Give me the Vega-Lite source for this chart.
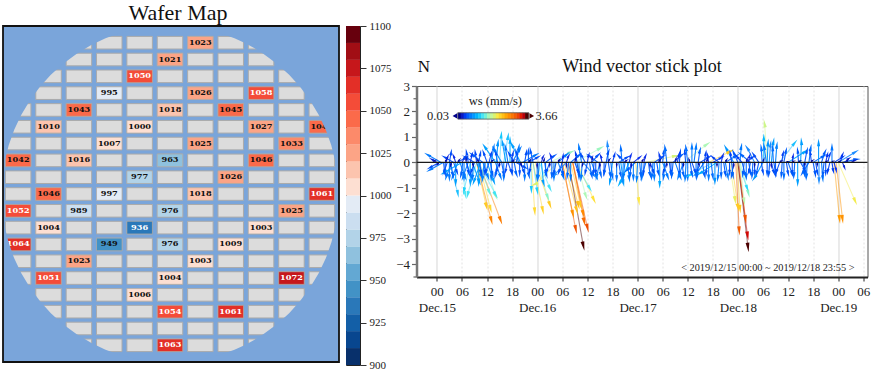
{
"$schema":"https://vega.github.io/schema/vega-lite/v6.json",
"background":"white","padding":{"left":2,"top":2,"right":0,"bottom":0},
"config":{"font":"Liberation Serif"},
"datasets":{
"cells":[
{"r":0,"c":2},{"r":0,"c":3},{"r":0,"c":4},{"r":0,"c":5},{"r":0,"c":6},{"r":0,"c":7},{"r":0,"c":8},
{"r":1,"c":2},{"r":1,"c":3},{"r":1,"c":4},{"r":1,"c":5},{"r":1,"c":6},{"r":1,"c":7},{"r":1,"c":8},
{"r":2,"c":1},{"r":2,"c":2},{"r":2,"c":3},{"r":2,"c":4},{"r":2,"c":5},{"r":2,"c":6},{"r":2,"c":7},{"r":2,"c":8},{"r":2,"c":9},
{"r":3,"c":1},{"r":3,"c":2},{"r":3,"c":3},{"r":3,"c":4},{"r":3,"c":5},{"r":3,"c":6},{"r":3,"c":7},{"r":3,"c":8},{"r":3,"c":9},
{"r":4,"c":0},{"r":4,"c":1},{"r":4,"c":2},{"r":4,"c":3},{"r":4,"c":4},{"r":4,"c":5},{"r":4,"c":6},{"r":4,"c":7},{"r":4,"c":8},{"r":4,"c":9},{"r":4,"c":10},
{"r":5,"c":0},{"r":5,"c":1},{"r":5,"c":2},{"r":5,"c":3},{"r":5,"c":4},{"r":5,"c":5},{"r":5,"c":6},{"r":5,"c":7},{"r":5,"c":8},{"r":5,"c":9},{"r":5,"c":10},
{"r":6,"c":0},{"r":6,"c":1},{"r":6,"c":2},{"r":6,"c":3},{"r":6,"c":4},{"r":6,"c":5},{"r":6,"c":6},{"r":6,"c":7},{"r":6,"c":8},{"r":6,"c":9},{"r":6,"c":10},
{"r":7,"c":0},{"r":7,"c":1},{"r":7,"c":2},{"r":7,"c":3},{"r":7,"c":4},{"r":7,"c":5},{"r":7,"c":6},{"r":7,"c":7},{"r":7,"c":8},{"r":7,"c":9},{"r":7,"c":10},
{"r":8,"c":0},{"r":8,"c":1},{"r":8,"c":2},{"r":8,"c":3},{"r":8,"c":4},{"r":8,"c":5},{"r":8,"c":6},{"r":8,"c":7},{"r":8,"c":8},{"r":8,"c":9},{"r":8,"c":10},
{"r":9,"c":0},{"r":9,"c":1},{"r":9,"c":2},{"r":9,"c":3},{"r":9,"c":4},{"r":9,"c":5},{"r":9,"c":6},{"r":9,"c":7},{"r":9,"c":8},{"r":9,"c":9},{"r":9,"c":10},
{"r":10,"c":0},{"r":10,"c":1},{"r":10,"c":2},{"r":10,"c":3},{"r":10,"c":4},{"r":10,"c":5},{"r":10,"c":6},{"r":10,"c":7},{"r":10,"c":8},{"r":10,"c":9},{"r":10,"c":10},
{"r":11,"c":0},{"r":11,"c":1},{"r":11,"c":2},{"r":11,"c":3},{"r":11,"c":4},{"r":11,"c":5},{"r":11,"c":6},{"r":11,"c":7},{"r":11,"c":8},{"r":11,"c":9},{"r":11,"c":10},
{"r":12,"c":0},{"r":12,"c":1},{"r":12,"c":2},{"r":12,"c":3},{"r":12,"c":4},{"r":12,"c":5},{"r":12,"c":6},{"r":12,"c":7},{"r":12,"c":8},{"r":12,"c":9},{"r":12,"c":10},
{"r":13,"c":0},{"r":13,"c":1},{"r":13,"c":2},{"r":13,"c":3},{"r":13,"c":4},{"r":13,"c":5},{"r":13,"c":6},{"r":13,"c":7},{"r":13,"c":8},{"r":13,"c":9},{"r":13,"c":10},
{"r":14,"c":0},{"r":14,"c":1},{"r":14,"c":2},{"r":14,"c":3},{"r":14,"c":4},{"r":14,"c":5},{"r":14,"c":6},{"r":14,"c":7},{"r":14,"c":8},{"r":14,"c":9},{"r":14,"c":10},
{"r":15,"c":1},{"r":15,"c":2},{"r":15,"c":3},{"r":15,"c":4},{"r":15,"c":5},{"r":15,"c":6},{"r":15,"c":7},{"r":15,"c":8},{"r":15,"c":9},
{"r":16,"c":1},{"r":16,"c":2},{"r":16,"c":3},{"r":16,"c":4},{"r":16,"c":5},{"r":16,"c":6},{"r":16,"c":7},{"r":16,"c":8},{"r":16,"c":9},
{"r":17,"c":2},{"r":17,"c":3},{"r":17,"c":4},{"r":17,"c":5},{"r":17,"c":6},{"r":17,"c":7},{"r":17,"c":8},
{"r":18,"c":2},{"r":18,"c":3},{"r":18,"c":4},{"r":18,"c":5},{"r":18,"c":6},{"r":18,"c":7},{"r":18,"c":8}],
"dies":[
{"r":0,"c":6,"v":1023},{"r":1,"c":5,"v":1021},{"r":2,"c":4,"v":1050},{"r":3,"c":3,"v":995},{"r":3,"c":6,"v":1026},{"r":3,"c":8,"v":1058},
{"r":4,"c":2,"v":1043},{"r":4,"c":5,"v":1018},{"r":4,"c":7,"v":1045},{"r":5,"c":1,"v":1010},{"r":5,"c":4,"v":1000},{"r":5,"c":8,"v":1027},{"r":5,"c":10,"v":1048},
{"r":6,"c":3,"v":1007},{"r":6,"c":6,"v":1025},{"r":6,"c":9,"v":1033},{"r":7,"c":0,"v":1042},{"r":7,"c":2,"v":1016},{"r":7,"c":5,"v":963},{"r":7,"c":8,"v":1046},
{"r":8,"c":4,"v":977},{"r":8,"c":7,"v":1026},{"r":9,"c":1,"v":1046},{"r":9,"c":3,"v":997},{"r":9,"c":6,"v":1018},{"r":9,"c":10,"v":1061},
{"r":10,"c":0,"v":1052},{"r":10,"c":2,"v":989},{"r":10,"c":5,"v":976},{"r":10,"c":9,"v":1025},{"r":11,"c":1,"v":1004},{"r":11,"c":4,"v":936},{"r":11,"c":8,"v":1003},
{"r":12,"c":0,"v":1064},{"r":12,"c":3,"v":949},{"r":12,"c":5,"v":976},{"r":12,"c":7,"v":1009},{"r":13,"c":2,"v":1023},{"r":13,"c":6,"v":1003},
{"r":14,"c":1,"v":1051},{"r":14,"c":5,"v":1004},{"r":14,"c":9,"v":1072},{"r":15,"c":4,"v":1006},{"r":16,"c":5,"v":1054},{"r":16,"c":7,"v":1061},{"r":18,"c":5,"v":1063}],
"bins":[{"lo":900,"hi":910,"m":905},{"lo":910,"hi":920,"m":915},{"lo":920,"hi":930,"m":925},{"lo":930,"hi":940,"m":935},{"lo":940,"hi":950,"m":945},{"lo":950,"hi":960,"m":955},{"lo":960,"hi":970,"m":965},{"lo":970,"hi":980,"m":975},{"lo":980,"hi":990,"m":985},{"lo":990,"hi":1000,"m":995},{"lo":1000,"hi":1010,"m":1005},{"lo":1010,"hi":1020,"m":1015},{"lo":1020,"hi":1030,"m":1025},{"lo":1030,"hi":1040,"m":1035},{"lo":1040,"hi":1050,"m":1045},{"lo":1050,"hi":1060,"m":1055},{"lo":1060,"hi":1070,"m":1065},{"lo":1070,"hi":1080,"m":1075},{"lo":1080,"hi":1090,"m":1085},{"lo":1090,"hi":1100,"m":1095}],
"ramp":[{"a":5,"b":5.8,"w":0.03},{"a":5.7,"b":6.5,"w":0.18},{"a":6.4,"b":7.2,"w":0.33},{"a":7.1,"b":7.9,"w":0.48},{"a":7.8,"b":8.6,"w":0.63},{"a":8.5,"b":9.3,"w":0.78},{"a":9.2,"b":10,"w":0.93},{"a":9.9,"b":10.7,"w":1.08},{"a":10.6,"b":11.4,"w":1.23},{"a":11.3,"b":12.1,"w":1.38},{"a":12,"b":12.8,"w":1.53},{"a":12.7,"b":13.5,"w":1.68},{"a":13.4,"b":14.2,"w":1.83},{"a":14.1,"b":14.9,"w":1.98},{"a":14.8,"b":15.6,"w":2.13},{"a":15.5,"b":16.3,"w":2.28},{"a":16.2,"b":17,"w":2.43},{"a":16.9,"b":17.7,"w":2.58},{"a":17.6,"b":18.4,"w":2.73},{"a":18.3,"b":19.1,"w":2.88},{"a":19,"b":19.8,"w":3.03},{"a":19.7,"b":20.5,"w":3.18},{"a":20.4,"b":21.2,"w":3.33},{"a":21.1,"b":22,"w":3.66}],
"minorTicks":[{"y":-4.5},{"y":-3.5},{"y":-2.5},{"y":-1.5},{"y":-0.5},{"y":0.5},{"y":1.5},{"y":2.5}],
"sticks":[
{"t":11.5,"e":14,"v":-1.3,"w":1.5,"d":155},{"t":33,"e":39,"v":0.55,"w":1.5,"d":60},
{"t":27,"e":32,"v":0.4,"w":1.5,"d":68},{"t":59,"e":64.5,"v":0.7,"w":1.55,"d":55},
{"t":65,"e":70,"v":0.42,"w":2.2,"d":65},{"t":50,"e":57,"v":0.25,"w":1.8,"d":78},
{"t":3,"e":5,"v":-1.2,"w":1,"d":170},{"t":10,"e":14,"v":-1.25,"w":1.2,"d":150},{"t":8,"e":6.5,"v":-1.1,"w":1.1,"d":-170},
{"t":6,"e":6.8,"v":-1.25,"w":1.25,"d":170},{"t":9.5,"e":7.4,"v":-1.25,"w":1.2,"d":-165},
{"t":10,"e":12.8,"v":-1.8,"w":2.1,"d":165},{"t":9.5,"e":11.8,"v":-1.7,"w":2.2,"d":165},
{"t":9.5,"e":13,"v":-2.25,"w":2.65,"d":166},{"t":10,"e":15.2,"v":-2.25,"w":2.7,"d":160},{"t":10,"e":12.5,"v":-1.15,"w":1.35,"d":160},
{"t":22.6,"e":23.4,"v":-1.9,"w":2.1,"d":175},{"t":23,"e":25.3,"v":-1.85,"w":2.15,"d":168},{"t":23.5,"e":27,"v":-1.65,"w":2.2,"d":160},
{"t":29,"e":23.5,"v":-0.85,"w":1.85,"d":-115},{"t":23,"e":24,"v":-1.1,"w":1.1,"d":170},{"t":24,"e":26.5,"v":-1.35,"w":1.45,"d":160},
{"t":24.5,"e":27,"v":-1,"w":1.2,"d":155},{"t":22.5,"e":22.6,"v":-1.05,"w":1.05,"d":179},
{"t":30,"e":33.2,"v":-2.6,"w":2.95,"d":168},{"t":30.5,"e":33.4,"v":-1.85,"w":2.25,"d":165},{"t":31,"e":33.8,"v":-1.65,"w":2.3,"d":165},
{"t":31.5,"e":35,"v":-3.25,"w":3.66,"d":168},{"t":32.5,"e":36,"v":-2.55,"w":3,"d":167},{"t":32.5,"e":35,"v":-2.0,"w":2.6,"d":165},
{"t":32,"e":34.3,"v":-1.65,"w":2.2,"d":165},{"t":33.5,"e":37.5,"v":-1.45,"w":2.05,"d":155},{"t":33.5,"e":35.6,"v":-1.3,"w":1.55,"d":160},
{"t":32.5,"e":35.2,"v":-2.3,"w":2.8,"d":167},{"t":30,"e":32.5,"v":-2.0,"w":2.55,"d":167},{"t":33,"e":36.5,"v":-1,"w":1.2,"d":150},
{"t":47.5,"e":48.3,"v":-1.5,"w":2,"d":172},
{"t":70.5,"e":72,"v":-1.75,"w":2.2,"d":168},{"t":71.5,"e":72.3,"v":-2.65,"w":2.9,"d":176},{"t":72,"e":74.3,"v":-2.85,"w":3.25,"d":172},{"t":72,"e":74.4,"v":-3.3,"w":3.66,"d":173},
{"t":72,"e":74.2,"v":-1,"w":1.15,"d":160},{"t":70,"e":71.3,"v":-1.45,"w":1.9,"d":170},{"t":72.5,"e":74.5,"v":-1.2,"w":1.45,"d":165},{"t":71.8,"e":72.5,"v":-1.8,"w":2.2,"d":175},
{"t":72.2,"e":73.8,"v":-2.2,"w":2.95,"d":173},{"t":72.5,"e":73.5,"v":-1.5,"w":1.6,"d":172},
{"t":95,"e":96.3,"v":-2.2,"w":2.5,"d":174},{"t":95.5,"e":97,"v":-2.2,"w":2.55,"d":173},{"t":96,"e":100,"v":-1.5,"w":1.95,"d":157},{"t":79,"e":78.4,"v":1.5,"w":1.75,"d":-10},
{"t":1,"e":-2.1,"v":0.29,"w":0.6,"d":-60},{"t":1.5,"e":-1.6,"v":-0.29,"w":0.6,"d":-120},{"t":0,"e":-1.2,"v":0.12,"w":0.24,"d":-60},{"t":0.5,"e":-1.6,"v":-0.2,"w":0.4,"d":-120},
{"t":2,"e":2,"v":-0.39,"w":0.4,"d":180},{"t":2.5,"e":1.7,"v":-0.37,"w":0.4,"d":-160},{"t":3,"e":3,"v":-0.59,"w":0.6,"d":180},{"t":3.5,"e":2.3,"v":-0.55,"w":0.6,"d":-160},
{"t":4,"e":4.8,"v":-0.37,"w":0.4,"d":160},{"t":4.5,"e":4.5,"v":-0.78,"w":0.8,"d":180},{"t":5,"e":3.8,"v":-0.55,"w":0.6,"d":-160},{"t":5.5,"e":6.7,"v":-0.55,"w":0.6,"d":160},
{"t":6,"e":1.8,"v":-0.39,"w":0.8,"d":-120},{"t":6.5,"e":6.5,"v":-0.59,"w":0.6,"d":180},{"t":7,"e":8.2,"v":-0.55,"w":0.6,"d":160},{"t":7.5,"e":6.3,"v":-0.55,"w":0.6,"d":-160},
{"t":8,"e":8,"v":-0.78,"w":0.8,"d":180},{"t":8.5,"e":10.1,"v":-0.73,"w":0.8,"d":160},{"t":9,"e":8.2,"v":-0.37,"w":0.4,"d":-160},{"t":9.5,"e":10.7,"v":-0.55,"w":0.6,"d":160},
{"t":10,"e":10,"v":-0.78,"w":0.8,"d":180},{"t":10.5,"e":8.9,"v":-0.73,"w":0.8,"d":-160},{"t":11,"e":12.2,"v":-0.55,"w":0.6,"d":160},{"t":11.5,"e":11.5,"v":-0.39,"w":0.4,"d":180},
{"t":12,"e":13.6,"v":-0.73,"w":0.8,"d":160},{"t":12.5,"e":11.7,"v":-0.37,"w":0.4,"d":-160},{"t":13,"e":13,"v":-0.59,"w":0.6,"d":180},{"t":14,"e":15.2,"v":-0.55,"w":0.6,"d":160},
{"t":15,"e":14.2,"v":-0.37,"w":0.4,"d":-160},{"t":16,"e":16,"v":-0.59,"w":0.6,"d":180},{"t":17,"e":17.8,"v":-0.37,"w":0.4,"d":160},{"t":18,"e":18,"v":-0.39,"w":0.4,"d":180},
{"t":19,"e":21.1,"v":-0.2,"w":0.4,"d":120},{"t":20,"e":20.8,"v":-0.37,"w":0.4,"d":160},{"t":21,"e":21,"v":-0.59,"w":0.6,"d":180},
{"t":3,"e":3.4,"v":0.38,"w":0.4,"d":10},{"t":4,"e":1.9,"v":0.2,"w":0.4,"d":-60},{"t":6,"e":6.7,"v":0.2,"w":0.24,"d":30},{"t":7.5,"e":7.1,"v":0.38,"w":0.4,"d":-10},
{"t":9,"e":6.9,"v":0.2,"w":0.4,"d":-60},{"t":10,"e":10.4,"v":0.34,"w":0.4,"d":10},{"t":11,"e":8.5,"v":0.3,"w":0.5,"d":-55},{"t":5,"e":7,"v":0.2,"w":0.4,"d":60},
{"t":13,"e":13.6,"v":0.58,"w":0.6,"d":10},{"t":14,"e":11.5,"v":0.6,"w":0.8,"d":-35},{"t":14.5,"e":14.1,"v":0.38,"w":0.4,"d":-10},{"t":15.5,"e":13.7,"v":0.51,"w":0.6,"d":-30},
{"t":16,"e":17,"v":1.0,"w":1,"d":10},{"t":16.5,"e":15.7,"v":0.77,"w":0.8,"d":-10},{"t":17,"e":16.4,"v":0.58,"w":0.6,"d":-10},{"t":17.5,"e":17.5,"v":0.85,"w":0.9,"d":0},
{"t":18,"e":19.8,"v":0.51,"w":0.6,"d":30},{"t":18.5,"e":17.3,"v":0.34,"w":0.4,"d":-30},{"t":19,"e":19.6,"v":0.58,"w":0.6,"d":10},{"t":20,"e":18,"v":0.68,"w":0.8,"d":-30},
{"t":20.5,"e":23.6,"v":0.29,"w":0.6,"d":60},{"t":21,"e":21.4,"v":0.38,"w":0.4,"d":10},{"t":22,"e":24.1,"v":0.2,"w":0.4,"d":60},{"t":15,"e":15.4,"v":1.05,"w":1.05,"d":5},
{"t":12,"e":11.2,"v":0.37,"w":0.4,"d":-20},{"t":21.9,"e":21.9,"v":0.42,"w":0.45,"d":0},
{"t":24,"e":24,"v":-0.59,"w":0.6,"d":180},{"t":25,"e":25.5,"v":-0.8,"w":0.8,"d":165},{"t":26,"e":26,"v":-0.39,"w":0.4,"d":180},{"t":27,"e":26.2,"v":-0.37,"w":0.4,"d":-160},
{"t":28,"e":28,"v":-0.59,"w":0.6,"d":180},{"t":29,"e":30.2,"v":-0.55,"w":0.6,"d":160},{"t":30,"e":29.2,"v":-0.37,"w":0.4,"d":-160},{"t":31,"e":28,"v":-0.5,"w":0.7,"d":-130},
{"t":32,"e":32,"v":-0.59,"w":0.6,"d":180},{"t":33,"e":33.8,"v":-0.37,"w":0.4,"d":160},{"t":34,"e":34,"v":-0.55,"w":0.6,"d":180},{"t":35,"e":37.5,"v":-0.5,"w":0.7,"d":135},
{"t":36,"e":35.5,"v":-0.39,"w":0.4,"d":-170},{"t":37,"e":38.2,"v":-0.55,"w":0.6,"d":160},{"t":38,"e":38,"v":-0.39,"w":0.4,"d":180},{"t":39,"e":38.2,"v":-0.55,"w":0.6,"d":-170},
{"t":40,"e":40,"v":-0.39,"w":0.4,"d":180},{"t":41,"e":41.5,"v":-0.5,"w":0.5,"d":170},{"t":42,"e":41.4,"v":-0.75,"w":0.8,"d":-170},{"t":43,"e":43,"v":-0.62,"w":0.6,"d":180},
{"t":44,"e":44.6,"v":-0.78,"w":0.8,"d":170},{"t":45,"e":44.6,"v":-0.55,"w":0.6,"d":-170},{"t":46,"e":43.8,"v":-0.8,"w":0.9,"d":-150},{"t":47,"e":47,"v":-0.59,"w":0.6,"d":180},
{"t":47.5,"e":45.5,"v":-0.3,"w":0.5,"d":-130},{"t":48,"e":47.8,"v":-0.65,"w":0.65,"d":-175},
{"t":23,"e":22.4,"v":0.45,"w":0.45,"d":-10},{"t":26,"e":28,"v":0.25,"w":0.45,"d":55},{"t":29,"e":31,"v":0.3,"w":0.6,"d":50},{"t":30,"e":30.2,"v":0.25,"w":0.3,"d":5},
{"t":32,"e":34,"v":0.28,"w":0.5,"d":50},{"t":34.6,"e":34,"v":0.6,"w":0.6,"d":-10},{"t":35.5,"e":34.5,"v":0.3,"w":0.4,"d":-30},{"t":37,"e":38.5,"v":0.28,"w":0.45,"d":45},
{"t":38.5,"e":36.5,"v":0.25,"w":0.45,"d":-55},{"t":41,"e":40.8,"v":0.72,"w":0.7,"d":-5},{"t":42,"e":42.5,"v":0.3,"w":0.35,"d":15},{"t":43.5,"e":45.5,"v":0.2,"w":0.4,"d":60},
{"t":44.3,"e":44,"v":0.55,"w":0.55,"d":-5},{"t":45,"e":43.5,"v":0.25,"w":0.4,"d":-45},{"t":47,"e":48.5,"v":0.2,"w":0.3,"d":50},
{"t":49,"e":49,"v":-0.59,"w":0.6,"d":180},{"t":50,"e":49,"v":-0.55,"w":0.6,"d":-165},{"t":51,"e":51.8,"v":-0.37,"w":0.4,"d":160},{"t":52,"e":52,"v":-0.59,"w":0.6,"d":180},
{"t":53.3,"e":53.3,"v":-0.85,"w":0.85,"d":180},{"t":54,"e":55.2,"v":-0.55,"w":0.6,"d":160},{"t":55,"e":54.2,"v":-0.37,"w":0.4,"d":-160},{"t":56,"e":56,"v":-0.39,"w":0.4,"d":180},
{"t":57,"e":58.2,"v":-0.55,"w":0.6,"d":160},{"t":58,"e":58,"v":-0.45,"w":0.45,"d":180},{"t":59,"e":57.8,"v":-0.55,"w":0.6,"d":-160},{"t":60,"e":60,"v":-0.59,"w":0.6,"d":180},
{"t":61,"e":61.8,"v":-0.37,"w":0.4,"d":160},{"t":62,"e":62,"v":-0.5,"w":0.5,"d":180},{"t":63,"e":62.2,"v":-0.37,"w":0.4,"d":-160},{"t":64,"e":62,"v":-0.45,"w":0.6,"d":-130},
{"t":65,"e":65,"v":-0.59,"w":0.6,"d":180},{"t":66,"e":60.5,"v":-0.5,"w":1.1,"d":-120},{"t":66.5,"e":66.5,"v":-0.72,"w":0.75,"d":180},{"t":67,"e":63,"v":-0.42,"w":0.85,"d":-120},
{"t":68,"e":68,"v":-0.5,"w":0.5,"d":180},{"t":69,"e":69.6,"v":-0.55,"w":0.6,"d":170},{"t":70,"e":70,"v":-0.39,"w":0.4,"d":180},{"t":71,"e":70.5,"v":-0.5,"w":0.5,"d":-170},
{"t":52,"e":54,"v":0.22,"w":0.4,"d":60},{"t":54,"e":54.3,"v":0.42,"w":0.45,"d":10},{"t":55,"e":54.6,"v":0.55,"w":0.55,"d":-10},{"t":56.5,"e":58.5,"v":0.28,"w":0.45,"d":55},
{"t":58,"e":58.2,"v":0.4,"w":0.4,"d":10},{"t":60,"e":59.6,"v":0.55,"w":0.55,"d":-10},{"t":61,"e":61,"v":0.62,"w":0.6,"d":0},{"t":61.5,"e":62,"v":0.62,"w":0.6,"d":5},
{"t":63,"e":65,"v":0.2,"w":0.4,"d":60},{"t":64,"e":64.3,"v":0.35,"w":0.35,"d":10},{"t":66,"e":68,"v":0.18,"w":0.35,"d":65},{"t":67.5,"e":66,"v":0.2,"w":0.35,"d":-50},
{"t":69,"e":71.5,"v":0.25,"w":0.5,"d":60},{"t":71,"e":69.2,"v":0.55,"w":0.75,"d":-30},{"t":72,"e":71,"v":0.38,"w":0.45,"d":-25},{"t":72.5,"e":72.8,"v":0.6,"w":0.6,"d":10},
{"t":73,"e":71.8,"v":0.22,"w":0.35,"d":-45},{"t":74,"e":75.5,"v":0.2,"w":0.35,"d":60},
{"t":73,"e":73.8,"v":-0.5,"w":0.5,"d":160},{"t":74,"e":74,"v":-0.55,"w":0.55,"d":180},{"t":75,"e":74.6,"v":-0.35,"w":0.4,"d":-165},{"t":76,"e":76,"v":-0.39,"w":0.4,"d":180},
{"t":77,"e":76.4,"v":-0.45,"w":0.45,"d":-170},{"t":78,"e":76,"v":-0.6,"w":0.75,"d":-145},{"t":79,"e":79,"v":-0.42,"w":0.45,"d":180},{"t":80,"e":80.6,"v":-0.39,"w":0.4,"d":160},
{"t":81,"e":81,"v":-0.45,"w":0.45,"d":180},{"t":82,"e":81.2,"v":-0.37,"w":0.4,"d":-160},{"t":83,"e":83,"v":-0.55,"w":0.55,"d":180},{"t":84,"e":85,"v":-0.45,"w":0.5,"d":160},
{"t":85,"e":85,"v":-0.4,"w":0.4,"d":180},{"t":86.3,"e":86.3,"v":-0.78,"w":0.8,"d":180},{"t":87,"e":88,"v":-0.3,"w":0.4,"d":150},{"t":88,"e":88,"v":-0.42,"w":0.45,"d":180},
{"t":89,"e":87.5,"v":-0.4,"w":0.5,"d":-150},{"t":90,"e":90.5,"v":-0.45,"w":0.45,"d":170},{"t":91.4,"e":91.4,"v":-0.7,"w":0.7,"d":180},{"t":92,"e":92.3,"v":-0.62,"w":0.6,"d":175},
{"t":93,"e":93,"v":-0.4,"w":0.4,"d":180},{"t":94,"e":93.5,"v":-0.35,"w":0.35,"d":-170},{"t":95,"e":95.5,"v":-0.3,"w":0.3,"d":170},{"t":97,"e":97.5,"v":-0.2,"w":0.25,"d":160},
{"t":75,"e":72.8,"v":0.3,"w":0.5,"d":-50},{"t":76,"e":74.3,"v":0.55,"w":0.7,"d":-35},{"t":77,"e":75.8,"v":0.3,"w":0.4,"d":-35},{"t":78.2,"e":78.2,"v":0.95,"w":0.95,"d":0},
{"t":78.8,"e":78.3,"v":0.6,"w":0.6,"d":-10},{"t":79.5,"e":79.8,"v":0.7,"w":0.7,"d":8},{"t":80,"e":80.5,"v":0.8,"w":0.8,"d":10},{"t":80.5,"e":80.3,"v":0.55,"w":0.55,"d":-5},
{"t":81,"e":81.3,"v":0.65,"w":0.65,"d":8},{"t":82,"e":85.5,"v":0.75,"w":1,"d":40},{"t":83,"e":83.5,"v":0.45,"w":0.45,"d":15},{"t":84,"e":88,"v":0.42,"w":0.85,"d":55},
{"t":87,"e":87.2,"v":0.8,"w":0.8,"d":-5},{"t":88,"e":88.5,"v":0.45,"w":0.45,"d":15},{"t":89,"e":89.4,"v":0.55,"w":0.55,"d":10},{"t":90,"e":92.5,"v":0.25,"w":0.5,"d":60},
{"t":91.3,"e":91.3,"v":0.75,"w":0.75,"d":0},{"t":92,"e":92.8,"v":0.4,"w":0.45,"d":25},{"t":94.5,"e":94.5,"v":0.58,"w":0.58,"d":0},{"t":95,"e":97,"v":0.2,"w":0.35,"d":55},
{"t":96,"e":100,"v":0.4,"w":0.7,"d":60},{"t":97,"e":100.3,"v":0.12,"w":0.5,"d":85},{"t":97.5,"e":98.5,"v":0.15,"w":0.25,"d":60},{"t":93,"e":93.4,"v":0.3,"w":0.3,"d":15},
{"t":1.6,"e":1.9,"v":-0.42,"w":0.45,"d":165},{"t":3.3,"e":3.8,"v":-0.48,"w":0.5,"d":165},{"t":6.2,"e":5.8,"v":-0.48,"w":0.5,"d":-165},{"t":7.2,"e":7.6,"v":-0.4,"w":0.42,"d":165},{"t":8.8,"e":8.5,"v":-0.6,"w":0.6,"d":-170},{"t":10.2,"e":10.6,"v":-0.4,"w":0.42,"d":165},{"t":11.3,"e":10.9,"v":-0.65,"w":0.65,"d":-172},{"t":12.8,"e":13.3,"v":-0.45,"w":0.48,"d":165},{"t":14.5,"e":14,"v":-0.5,"w":0.5,"d":-165},{"t":15.5,"e":16,"v":-0.45,"w":0.48,"d":165},{"t":16.8,"e":16.4,"v":-0.35,"w":0.38,"d":-165},{"t":18.5,"e":19,"v":-0.45,"w":0.5,"d":160},{"t":19.8,"e":19.8,"v":-0.42,"w":0.42,"d":180},{"t":21.5,"e":22,"v":-0.5,"w":0.5,"d":165},{"t":22.5,"e":22.2,"v":-0.35,"w":0.38,"d":-170},
{"t":24.5,"e":24.2,"v":-0.6,"w":0.6,"d":-172},{"t":25.8,"e":26.2,"v":-0.48,"w":0.5,"d":165},{"t":27.5,"e":27.5,"v":-0.5,"w":0.5,"d":180},{"t":28.5,"e":28,"v":-0.42,"w":0.45,"d":-165},{"t":29.8,"e":30.2,"v":-0.45,"w":0.45,"d":168},{"t":31.5,"e":31.2,"v":-0.52,"w":0.52,"d":-172},{"t":33.5,"e":34,"v":-0.45,"w":0.45,"d":165},{"t":34.8,"e":34.5,"v":-0.6,"w":0.6,"d":-172},{"t":36.5,"e":37,"v":-0.5,"w":0.5,"d":165},{"t":37.6,"e":37.4,"v":-0.42,"w":0.42,"d":-175},{"t":38.8,"e":39.2,"v":-0.48,"w":0.5,"d":165},{"t":40.5,"e":40,"v":-0.42,"w":0.45,"d":-165},{"t":41.6,"e":42,"v":-0.55,"w":0.55,"d":170},{"t":43.5,"e":44,"v":-0.5,"w":0.5,"d":165},{"t":44.6,"e":44.4,"v":-0.68,"w":0.68,"d":-175},{"t":45.6,"e":46,"v":-0.62,"w":0.62,"d":170},{"t":46.5,"e":46.2,"v":-0.5,"w":0.5,"d":-172},
{"t":48.5,"e":48.8,"v":-0.5,"w":0.5,"d":170},{"t":49.6,"e":49.4,"v":-0.42,"w":0.42,"d":-175},{"t":50.6,"e":51,"v":-0.48,"w":0.5,"d":165},{"t":51.7,"e":51.4,"v":-0.55,"w":0.55,"d":-172},{"t":52.6,"e":53,"v":-0.42,"w":0.45,"d":165},{"t":54.5,"e":54.2,"v":-0.58,"w":0.58,"d":-172},{"t":55.6,"e":56,"v":-0.45,"w":0.45,"d":168},{"t":56.5,"e":56.2,"v":-0.5,"w":0.5,"d":-172},{"t":58.6,"e":59,"v":-0.48,"w":0.5,"d":165},{"t":59.6,"e":59.4,"v":-0.62,"w":0.62,"d":-175},{"t":60.6,"e":61,"v":-0.45,"w":0.48,"d":165},{"t":62.5,"e":62.2,"v":-0.55,"w":0.55,"d":-172},{"t":63.5,"e":64,"v":-0.5,"w":0.5,"d":165},{"t":64.6,"e":64.4,"v":-0.42,"w":0.42,"d":-175},{"t":65.6,"e":66,"v":-0.55,"w":0.55,"d":170},{"t":67.5,"e":67.2,"v":-0.6,"w":0.6,"d":-172},{"t":68.6,"e":69,"v":-0.45,"w":0.45,"d":168},{"t":70.5,"e":70.8,"v":-0.5,"w":0.5,"d":170},
{"t":73.5,"e":73.2,"v":-0.45,"w":0.45,"d":-172},{"t":74.6,"e":75,"v":-0.42,"w":0.45,"d":165},{"t":75.6,"e":75.4,"v":-0.5,"w":0.5,"d":-175},{"t":77.6,"e":78,"v":-0.38,"w":0.4,"d":165},{"t":79.6,"e":79.4,"v":-0.45,"w":0.45,"d":-175},{"t":80.6,"e":81,"v":-0.42,"w":0.42,"d":165},{"t":82.6,"e":82.4,"v":-0.48,"w":0.48,"d":-175},{"t":83.6,"e":84,"v":-0.42,"w":0.42,"d":165},{"t":85.6,"e":85.4,"v":-0.5,"w":0.5,"d":-175},{"t":87.6,"e":88,"v":-0.48,"w":0.5,"d":165},{"t":88.6,"e":88.4,"v":-0.55,"w":0.55,"d":-175},{"t":90.6,"e":91,"v":-0.4,"w":0.42,"d":165},{"t":92.6,"e":92.3,"v":-0.48,"w":0.48,"d":-172},{"t":94.5,"e":94.8,"v":-0.32,"w":0.35,"d":165},
{"t":2.2,"e":2.6,"v":0.22,"w":0.25,"d":25},{"t":4.5,"e":4,"v":0.25,"w":0.28,"d":-25},{"t":8,"e":8.4,"v":0.3,"w":0.32,"d":20},{"t":9.5,"e":9.2,"v":0.38,"w":0.38,"d":-10},{"t":12.5,"e":13,"v":0.35,"w":0.38,"d":20},{"t":14.2,"e":14.6,"v":0.75,"w":0.75,"d":8},{"t":17.8,"e":18.2,"v":0.35,"w":0.38,"d":15},{"t":19.5,"e":19,"v":0.4,"w":0.42,"d":-15},{"t":25,"e":25.4,"v":0.22,"w":0.25,"d":30},{"t":27.5,"e":27.2,"v":0.28,"w":0.3,"d":-25},{"t":31,"e":31.5,"v":0.25,"w":0.28,"d":30},{"t":33.5,"e":33.2,"v":0.35,"w":0.35,"d":-15},{"t":36,"e":36.3,"v":0.28,"w":0.3,"d":20},{"t":39.5,"e":39.2,"v":0.25,"w":0.28,"d":-25},{"t":40.5,"e":41,"v":0.4,"w":0.42,"d":20},{"t":46,"e":46.4,"v":0.28,"w":0.3,"d":25},
{"t":49.5,"e":49.9,"v":0.25,"w":0.28,"d":25},{"t":53.5,"e":53.2,"v":0.3,"w":0.32,"d":-15},{"t":57.5,"e":57.9,"v":0.3,"w":0.32,"d":20},{"t":59.5,"e":59.3,"v":0.4,"w":0.4,"d":-10},{"t":62.5,"e":62.9,"v":0.45,"w":0.48,"d":15},{"t":65,"e":64.7,"v":0.3,"w":0.32,"d":-15},{"t":68,"e":68.4,"v":0.28,"w":0.3,"d":25},{"t":70.5,"e":70.2,"v":0.35,"w":0.35,"d":-15},{"t":74.5,"e":74.8,"v":0.25,"w":0.28,"d":20},{"t":77.8,"e":77.6,"v":0.55,"w":0.55,"d":-8},{"t":79,"e":79.2,"v":0.75,"w":0.75,"d":5},{"t":82.5,"e":82.8,"v":0.35,"w":0.35,"d":15},{"t":85,"e":85.2,"v":0.25,"w":0.28,"d":12},{"t":86.5,"e":86.3,"v":0.45,"w":0.45,"d":-8},{"t":89.6,"e":89.3,"v":0.38,"w":0.38,"d":-12},{"t":93.5,"e":94,"v":0.32,"w":0.35,"d":25},{"t":96.5,"e":97,"v":0.3,"w":0.32,"d":25},{"t":99,"e":100,"v":0.08,"w":0.2,"d":70},
{"t":-1,"e":-0.4,"v":0.08,"w":0.1,"d":70},{"t":0.5,"e":0.1,"v":-0.08,"w":0.1,"d":-120},{"t":2,"e":2.3,"v":0.1,"w":0.12,"d":40},{"t":3.5,"e":3.3,"v":-0.12,"w":0.12,"d":-170},
{"t":5,"e":5.4,"v":0.1,"w":0.12,"d":40},{"t":7,"e":7,"v":0.15,"w":0.15,"d":0},{"t":8.5,"e":8.7,"v":-0.12,"w":0.12,"d":160},{"t":10,"e":9.7,"v":0.1,"w":0.12,"d":-40},
{"t":13,"e":13.4,"v":0.08,"w":0.12,"d":60},{"t":15,"e":15,"v":-0.12,"w":0.12,"d":180},{"t":18,"e":18.4,"v":0.08,"w":0.12,"d":60},{"t":20,"e":20.2,"v":-0.1,"w":0.1,"d":160},
{"t":22,"e":22.4,"v":0.1,"w":0.12,"d":50},{"t":24,"e":24,"v":-0.15,"w":0.15,"d":180},{"t":25.5,"e":25.7,"v":0.12,"w":0.12,"d":20},{"t":27,"e":27,"v":-0.12,"w":0.12,"d":180},
{"t":29,"e":29.3,"v":0.1,"w":0.12,"d":40},{"t":31,"e":31,"v":-0.15,"w":0.15,"d":180},{"t":33,"e":33.2,"v":0.15,"w":0.15,"d":15},{"t":35,"e":34.8,"v":-0.12,"w":0.12,"d":-165},
{"t":37,"e":37.2,"v":0.18,"w":0.18,"d":15},{"t":39,"e":39,"v":-0.15,"w":0.15,"d":180},{"t":41,"e":41.3,"v":0.12,"w":0.12,"d":45},{"t":43,"e":43,"v":-0.12,"w":0.12,"d":180},
{"t":45,"e":45.4,"v":0.08,"w":0.1,"d":60},{"t":46.5,"e":46.5,"v":-0.15,"w":0.15,"d":180},{"t":49,"e":49.3,"v":0.1,"w":0.1,"d":40},{"t":51,"e":51,"v":-0.15,"w":0.15,"d":180},
{"t":53,"e":53.4,"v":0.1,"w":0.12,"d":50},{"t":55,"e":55,"v":-0.12,"w":0.12,"d":180},{"t":57,"e":57.2,"v":0.15,"w":0.15,"d":15},{"t":59,"e":59,"v":-0.12,"w":0.12,"d":180},
{"t":60.5,"e":60.3,"v":0.12,"w":0.12,"d":-20},{"t":62.5,"e":62.7,"v":-0.1,"w":0.1,"d":160},{"t":64.5,"e":64.7,"v":0.12,"w":0.12,"d":20},{"t":67,"e":67,"v":-0.12,"w":0.12,"d":180},
{"t":69,"e":69.3,"v":0.1,"w":0.1,"d":40},{"t":71,"e":71,"v":-0.15,"w":0.15,"d":180},{"t":74,"e":74.2,"v":0.12,"w":0.12,"d":20},{"t":76,"e":76,"v":-0.12,"w":0.12,"d":180},
{"t":78,"e":78.2,"v":0.12,"w":0.12,"d":20},{"t":80,"e":80,"v":-0.15,"w":0.15,"d":180},{"t":82,"e":82.4,"v":0.06,"w":0.08,"d":70},{"t":83.5,"e":84,"v":0.04,"w":0.06,"d":80},
{"t":85,"e":85.4,"v":0.05,"w":0.06,"d":75},{"t":86.5,"e":86.9,"v":0.06,"w":0.08,"d":70},{"t":88,"e":88,"v":-0.1,"w":0.1,"d":180},{"t":89.5,"e":89.9,"v":0.08,"w":0.1,"d":60},
{"t":91,"e":91,"v":-0.1,"w":0.1,"d":180},{"t":93,"e":93.3,"v":0.05,"w":0.06,"d":70},{"t":94.5,"e":94.8,"v":0.05,"w":0.06,"d":70},{"t":96,"e":96.4,"v":0.05,"w":0.06,"d":70},{"t":98,"e":98.3,"v":0.1,"w":0.12,"d":40}
]},
"hconcat":[
{"hconcat":[
{"width":336,"height":336,
 "view":{"fill":"#7aa5da","stroke":null},
 "title":{"text":"Wafer Map","fontSize":22,"font":"Liberation Serif","fontWeight":"normal","color":"#111","dx":7,"offset":0},
 "encoding":{
  "x":{"field":"c","type":"ordinal","axis":null,"scale":{"type":"band","domain":[0,1,2,3,4,5,6,7,8,9,10],"range":[0,334],"paddingInner":0.16,"paddingOuter":0.08}},
  "y":{"field":"r","type":"ordinal","axis":null,"scale":{"type":"band","domain":[0,1,2,3,4,5,6,7,8,9,10,11,12,13,14,15,16,17,18],"range":[8.3,327.7],"paddingInner":0.25,"paddingOuter":0.125}}},
 "layer":[
  {"data":{"name":"cells"},"mark":{"type":"rect","fill":"#dcdcdc","stroke":"#ababab","strokeWidth":1}},
  {"data":{"name":"dies"},"mark":{"type":"rect","stroke":"#aaaaaa","strokeOpacity":0.7,"strokeWidth":1},
   "encoding":{"color":{"field":"v","type":"quantitative","legend":null,"scale":{"type":"quantize","domain":[900,1100],"range":["#08306b","#08468f","#135fa7","#2a78b9","#4292c6","#63a8d3","#8fc1de","#b2d3e8","#cbdef0","#e3ebf5","#fddfd2","#fcc4ae","#fca486","#fc8a6a","#fb6a4a","#f44c38","#e32f27","#c6171b","#a10e15","#67000d"]}}}},
  {"data":{"name":"dies"},"mark":{"type":"text","font":"DejaVu Serif","fontWeight":"bold","fontSize":8.2},
   "encoding":{"text":{"field":"v","type":"quantitative"},
    "color":{"condition":{"test":"datum.v>=1050||datum.v<940","value":"#ffffff"},"value":"#111111"}}},
  {"data":{"values":[{"r":9,"c":5}]},"mark":{"type":"arc","fill":"#7aa5da","radius":168.5,"radius2":420,"theta":0,"theta2":6.2832,"clip":true}},
  {"data":{"values":[{"x0":0,"x1":1,"y0":0,"y1":1}]},"mark":{"type":"rect","fill":null,"stroke":"#111","strokeWidth":1.8},
   "encoding":{"x":{"field":"x0","type":"quantitative","axis":null,"scale":{"domain":[0,1],"nice":false}},"x2":{"field":"x1"},"y":{"field":"y0","type":"quantitative","axis":null,"scale":{"domain":[0,1],"nice":false}},"y2":{"field":"y1"}}}
 ],
 "resolve":{"scale":{"x":"independent","y":"independent"}}},
{"width":14,"height":339,
 "data":{"name":"bins"},
 "view":{"stroke":"#222","strokeWidth":1},
 "mark":{"type":"rect"},
 "encoding":{
  "y":{"field":"lo","type":"quantitative","scale":{"domain":[900,1100]},"axis":{"orient":"right","title":null,"format":"d","values":[900,925,950,975,1000,1025,1050,1075,1100],"tickCount":20,"grid":false,"domain":false,"tickColor":"#333","tickSize":6,"labelFont":"Liberation Serif","labelFontSize":11,"labelColor":"#222","labelPadding":3}},
  "y2":{"field":"hi"},
  "color":{"field":"m","type":"quantitative","legend":null,"scale":{"type":"quantize","domain":[900,1100],"range":["#08306b","#08468f","#135fa7","#2a78b9","#4292c6","#63a8d3","#8fc1de","#b2d3e8","#cbdef0","#e3ebf5","#fddfd2","#fcc4ae","#fca486","#fc8a6a","#fb6a4a","#f44c38","#e32f27","#c6171b","#a10e15","#67000d"]}}}}
],"spacing":5,"resolve":{"scale":{"color":"independent"}}},
{"vconcat":[
 {"width":451,"height":30,"view":{"stroke":null},"data":{"values":[{"a":1}]},"mark":{"type":"point","opacity":0},"encoding":{}},
 {"width":451,"height":191,
  "view":{"stroke":"#555","strokeWidth":1},
  "title":{"text":"Wind vector stick plot","fontSize":18,"font":"Liberation Serif","fontWeight":"normal","color":"#111","offset":0,"dy":19},
  "encoding":{
   "x":{"type":"quantitative","scale":{"domain":[-4.87,103],"nice":false,"zero":false}},
   "y":{"type":"quantitative","scale":{"domain":[-4.5,3],"nice":false,"zero":false}}},
  "layer":[
   {"data":{"name":"sticks"},"mark":{"type":"rule","strokeWidth":1.1,"clip":true},
    "encoding":{
     "opacity":{"condition":{"test":"datum.w<1","value":0.95},"value":0.5},
     "x":{"field":"e","type":"quantitative","axis":{"title":null,"values":[0,6,12,18,24,30,36,42,48,54,60,66,72,78,84,90,96,102],"tickCount":40,"grid":true,
       "gridColor":{"condition":{"test":"datum.value%24==0","value":"#dddddd"},"value":"#e2e2e2"},
       "gridDash":{"condition":{"test":"datum.value%24==0","value":[]},"value":[2,2]},
       "gridWidth":{"condition":{"test":"datum.value%24==0","value":1.2},"value":1},
       "labelExpr":"datum.value%24==0?[(datum.value%24<10?'0':'')+(datum.value%24),'Dec.'+(15+datum.value/24)]:[(datum.value%24<10?'0':'')+(datum.value%24)]",
       "labelFont":"Liberation Serif","labelFontSize":13,"labelColor":"#222","labelLineHeight":16,"labelBaseline":"top","labelPadding":4,
       "tickColor":"#222","tickSize":4,"domainColor":"#222","domainWidth":2,"labelOverlap":false}},
     "x2":{"field":"t"},
     "y":{"field":"v","type":"quantitative","axis":{"title":"N","titleAngle":0,"titleFont":"Liberation Serif","titleFontSize":17,"titleFontWeight":"normal","titleColor":"#111","titleX":7,"titleY":-11,"titleAlign":"center",
       "values":[-4,-3,-2,-1,0,1,2,3],"tickCount":20,"grid":false,"format":"d",
       "labelFont":"Liberation Serif","labelFontSize":13,"labelColor":"#222","labelPadding":2,"labelOverlap":false,
       "tickColor":"#666","tickWidth":1.2,"tickSize":5,"domainColor":"#777","domainWidth":2.5}},
     "y2":{"datum":0},
     "color":{"field":"w","type":"quantitative","legend":null,"scale":{"domain":[0.03,0.3,0.7,1,1.25,1.6,2,2.6,3.2,3.66],"range":["#00008b","#0a30f0","#1c8cff","#1cc0ff","#50e8f4","#c0f8b0","#ffe840","#ff8a00","#e41000","#4c0000"]}}}},
   {"data":{"name":"sticks"},"mark":{"type":"point","shape":"M0,-1.1L0.36,0.7L-0.36,0.7Z","filled":true,"opacity":1,"strokeWidth":0,"clip":true},
    "encoding":{
     "x":{"field":"e","type":"quantitative"},
     "y":{"field":"v","type":"quantitative"},
     "angle":{"field":"d","type":"quantitative","scale":null},
     "size":{"field":"w","type":"quantitative","legend":null,"scale":{"domain":[0.03,0.5,3.66],"range":[14,70,110],"zero":false}},
     "color":{"field":"w","type":"quantitative","legend":null}}},
   {"data":{"name":"minorTicks"},"mark":{"type":"rule","color":"#666","strokeWidth":1.2},
    "encoding":{"y":{"field":"y","type":"quantitative"},"x":{"datum":-5.6},"x2":{"datum":-4.87}}},
   {"data":{"values":[{"z":0}]},"mark":{"type":"rule","color":"#1a1a1a","strokeWidth":1.2},"encoding":{"y":{"field":"z","type":"quantitative"}}},
   {"data":{"name":"ramp"},"mark":{"type":"rect"},
    "encoding":{"x":{"field":"a","type":"quantitative"},"x2":{"field":"b"},"y":{"datum":1.95},"y2":{"datum":1.7},"color":{"field":"w","type":"quantitative","legend":null}}},
   {"data":{"values":[{"a":5,"b":22}]},"mark":{"type":"rect","fill":null,"stroke":"#555","strokeWidth":0.8},
    "encoding":{"x":{"field":"a","type":"quantitative"},"x2":{"field":"b"},"y":{"datum":1.95},"y2":{"datum":1.7}}},
   {"data":{"values":[{"x":4.3,"s":"triangle-left","w":0.03},{"x":22.7,"s":"triangle-right","w":3.66}]},"mark":{"type":"point","filled":true,"size":28,"strokeWidth":0,"opacity":1},
    "encoding":{"x":{"field":"x","type":"quantitative"},"y":{"datum":1.825},"shape":{"field":"s","type":"nominal","legend":null,"scale":null},"color":{"field":"w","type":"quantitative","legend":null}}},
   {"data":{"values":[{"x":14,"y":2.42,"s":"ws (mm/s)"}]},"mark":{"type":"text","align":"center","font":"Liberation Serif","fontSize":12.5,"color":"#222"},
    "encoding":{"x":{"field":"x","type":"quantitative"},"y":{"field":"y","type":"quantitative"},"text":{"field":"s"}}},
   {"data":{"values":[{"x":2.9,"y":1.82,"s":"0.03"}]},"mark":{"type":"text","align":"right","font":"Liberation Serif","fontSize":12.5,"color":"#222"},
    "encoding":{"x":{"field":"x","type":"quantitative"},"y":{"field":"y","type":"quantitative"},"text":{"field":"s"}}},
   {"data":{"values":[{"x":23.6,"y":1.82,"s":"3.66"}]},"mark":{"type":"text","align":"left","font":"Liberation Serif","fontSize":12.5,"color":"#222"},
    "encoding":{"x":{"field":"x","type":"quantitative"},"y":{"field":"y","type":"quantitative"},"text":{"field":"s"}}},
   {"data":{"values":[{"x":99.9,"y":-4.14,"s":"< 2019/12/15 00:00 ~ 2019/12/18 23:55 >"}]},"mark":{"type":"text","align":"right","font":"Liberation Serif","fontSize":10.3,"color":"#222"},
    "encoding":{"x":{"field":"x","type":"quantitative"},"y":{"field":"y","type":"quantitative"},"text":{"field":"s"}}}
  ]}
 ],"spacing":0}
],"spacing":2.5,
"resolve":{"scale":{"color":"independent"}}
}
